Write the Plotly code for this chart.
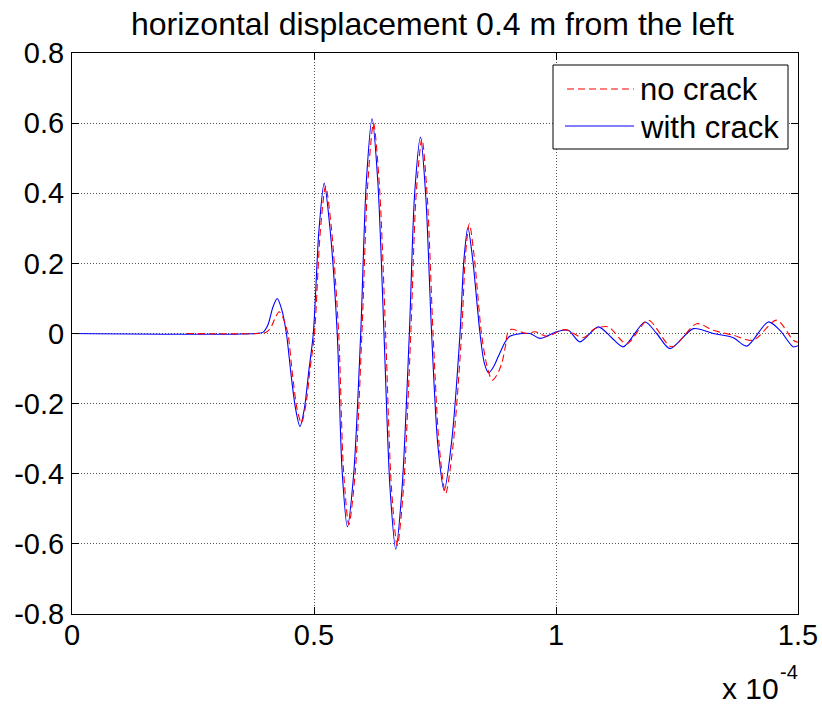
import plotly.graph_objects as go

# Time in units of 1e-4 s, horizontal displacement (normalised)
t_with_crack = [0.000, 0.380, 0.395, 0.405, 0.415, 0.424, 0.433, 0.443, 0.452, 0.462,
                0.471, 0.480, 0.489, 0.4986, 0.510, 0.521, 0.533, 0.548, 0.558, 0.569,
                0.582, 0.5965, 0.608, 0.620, 0.632, 0.6446, 0.657, 0.669, 0.682, 0.697,
                0.708, 0.720, 0.731, 0.743, 0.756, 0.769, 0.785, 0.8017, 0.810, 0.818,
                0.828, 0.843, 0.852, 0.861, 0.871, 0.880, 0.8876, 0.8946, 0.9045, 0.9188,
                0.9463, 0.967, 1.0014, 1.0254, 1.0496, 1.0874, 1.115, 1.139, 1.1839, 1.208,
                1.2355, 1.2837, 1.325, 1.3663, 1.394, 1.4386, 1.4628, 1.490, 1.500]
u_with_crack = [0.000, 0.000, 0.004, 0.025, 0.075, 0.100, 0.070, 0.000, -0.110, -0.215,
                -0.265, -0.215, -0.110, 0.000, 0.290, 0.429, 0.300, 0.000, -0.390, -0.551,
                -0.400, 0.000, 0.430, 0.612, 0.430, 0.000, -0.440, -0.615, -0.440, 0.000,
                0.400, 0.560, 0.390, 0.000, -0.320, -0.448, -0.300, 0.000, 0.215, 0.302,
                0.210, 0.000, -0.085, -0.112, -0.095, -0.068, -0.045, -0.025, -0.008, -0.002,
                0.000, -0.014, 0.005, 0.009, -0.024, 0.019, -0.012, -0.038, 0.033, 0.000,
                -0.043, 0.014, 0.000, -0.012, -0.036, 0.033, 0.009, -0.038, -0.035]

t_no_crack = [0.237, 0.385, 0.400, 0.410, 0.420, 0.428, 0.436, 0.446, 0.455, 0.465,
              0.474, 0.483, 0.492, 0.501, 0.513, 0.524, 0.536, 0.551, 0.561, 0.572,
              0.585, 0.599, 0.611, 0.623, 0.635, 0.648, 0.660, 0.672, 0.685, 0.700,
              0.711, 0.723, 0.734, 0.746, 0.759, 0.772, 0.788, 0.805, 0.813, 0.821,
              0.831, 0.846, 0.857, 0.868, 0.878, 0.888, 0.895, 0.901, 0.9085, 0.9394,
              0.9566, 0.9808, 1.0186, 1.0564, 1.0806, 1.108, 1.146, 1.1907, 1.239, 1.2907,
              1.325, 1.3663, 1.4077, 1.456, 1.490, 1.500]
u_no_crack = [0.000, 0.000, 0.003, 0.015, 0.045, 0.062, 0.045, 0.000, -0.110, -0.215,
              -0.255, -0.205, -0.100, 0.000, 0.290, 0.420, 0.300, 0.000, -0.390, -0.545,
              -0.400, 0.000, 0.425, 0.600, 0.425, 0.000, -0.440, -0.605, -0.440, 0.000,
              0.395, 0.555, 0.390, 0.000, -0.325, -0.456, -0.310, 0.000, 0.225, 0.313,
              0.220, 0.000, -0.090, -0.133, -0.118, -0.085, -0.040, 0.005, 0.012, 0.000,
              0.005, -0.008, 0.011, -0.012, 0.014, 0.019, -0.029, 0.038, -0.038, 0.028,
              0.009, -0.005, -0.019, 0.038, -0.019, -0.025]

x_tick_vals = [0, 0.5, 1, 1.5]
x_tick_text = ["0", "0.5", "1", "1.5"]
y_tick_vals = [-0.8, -0.6, -0.4, -0.2, 0, 0.2, 0.4, 0.6, 0.8]
y_tick_text = ["-0.8", "-0.6", "-0.4", "-0.2", "0", "0.2", "0.4", "0.6", "0.8"]

FONT = "Liberation Sans, Arial, sans-serif"
W, H = 822, 708
ML, MR, MT, MB = 72, 24, 53, 94

fig = go.Figure()
fig.add_trace(go.Scatter(x=t_with_crack, y=u_with_crack, mode="lines", name="with crack",
                         line=dict(color="#0000ff", width=1.1, shape="spline", smoothing=0.8)))
fig.add_trace(go.Scatter(x=t_no_crack, y=u_no_crack, mode="lines", name="no crack",
                         line=dict(color="#ff0000", width=1.1, dash="7px,4px",
                                   shape="spline", smoothing=0.8)))

axis_common = dict(showline=True, linecolor="black", linewidth=1, mirror="ticks",
                   ticks="inside", ticklen=7, tickcolor="black", showgrid=True,
                   gridcolor="#555555", gridwidth=1, griddash="1px,2px", zeroline=False)

fig.update_xaxes(range=[0, 1.5], tickvals=x_tick_vals, ticktext=x_tick_text,
                 tickfont=dict(family=FONT, size=29, color="black"),
                 ticklabelstandoff=-5, **axis_common)
fig.update_yaxes(range=[-0.8, 0.8], tickvals=y_tick_vals, ticktext=y_tick_text,
                 tickfont=dict(family=FONT, size=29, color="black"),
                 ticklabelstandoff=1, **axis_common)

pw, ph = W - ML - MR, H - MT - MB


def px_x(px):
    return (px - ML) / pw


def px_y(py):
    return (H - MB - py) / ph


# legend box drawn by hand so the sample lines are long, as in MATLAB
shapes = [
    dict(type="rect", xref="paper", yref="paper", x0=px_x(553), x1=px_x(788),
         y0=px_y(149), y1=px_y(65), line=dict(color="black", width=1), fillcolor="white",
         layer="above"),
    dict(type="line", xref="paper", yref="paper", x0=px_x(567), x1=px_x(634),
         y0=px_y(89), y1=px_y(89), line=dict(color="#ff0000", width=1.1, dash="7px,4px"),
         layer="above"),
    dict(type="line", xref="paper", yref="paper", x0=px_x(565), x1=px_x(634),
         y0=px_y(126), y1=px_y(126), line=dict(color="#0000ff", width=1.1), layer="above"),
]

annotations = [
    dict(text="horizontal displacement 0.4 m from the left", xref="paper", yref="paper",
         x=0.497, y=1, xanchor="center", yanchor="bottom", yshift=9, showarrow=False,
         font=dict(family=FONT, size=32, color="black")),
    dict(text="no crack", xref="paper", yref="paper", x=px_x(638), y=px_y(90),
         xanchor="left", yanchor="middle", showarrow=False,
         font=dict(family=FONT, size=31, color="black")),
    dict(text="with crack", xref="paper", yref="paper", x=px_x(638), y=px_y(127),
         xanchor="left", yanchor="middle", showarrow=False,
         font=dict(family=FONT, size=31, color="black")),
    dict(text="x 10", xref="paper", yref="paper", x=px_x(720), y=px_y(688),
         xanchor="left", yanchor="middle", showarrow=False,
         font=dict(family=FONT, size=30, color="black")),
    dict(text="-4", xref="paper", yref="paper", x=px_x(778), y=px_y(672),
         xanchor="left", yanchor="middle", showarrow=False,
         font=dict(family=FONT, size=20, color="black")),
]

fig.update_layout(width=W, height=H, margin=dict(l=ML, r=MR, t=MT, b=MB, autoexpand=False),
                  paper_bgcolor="white", plot_bgcolor="white", showlegend=False,
                  shapes=shapes, annotations=annotations)

fig.write_html("out.html")
